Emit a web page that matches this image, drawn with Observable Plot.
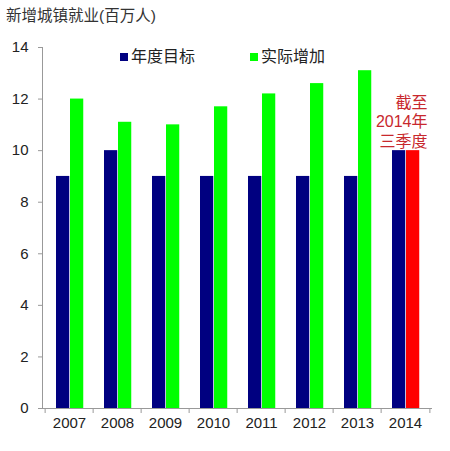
<!DOCTYPE html>
<html><head><meta charset="utf-8">
<script src="https://cdn.jsdelivr.net/npm/d3@7"></script>
<script src="https://cdn.jsdelivr.net/npm/@observablehq/plot@0.6"></script>
<style>
body{margin:0;background:#fff;font-family:"Liberation Sans","Noto Sans CJK SC",sans-serif;}
#wrap{position:relative;width:450px;height:451px;}
#title{height:32px;line-height:32px;padding-left:6px;font-size:15.5px;color:#333;}
.leg{position:absolute;top:47px;font-size:16px;color:#222;display:flex;align-items:center;line-height:20px;}
.sw{width:8px;height:8px;margin-right:3px;display:inline-block;}
</style></head>
<body><div id="wrap"><div id="title">新增城镇就业(百万人)</div>
<div id="chart"></div></div>
<script>
const years = ["2007","2008","2009","2010","2011","2012","2013","2014"];
const target = [9,10,9,9,9,9,9,10];
const actual = [12.0,11.1,11.0,11.7,12.2,12.6,13.1,10];
const seriesNames = ["年度目标","实际增加"];
const seriesColors = ["#000080","#00ff00"];
const partialColor = "#ff0000";
const note = "截至\n2014年\n三季度";
const yTicks = [0,2,4,6,8,10,12,14];

const data = years.map((y,i)=>({year:y,target:target[i],actual:actual[i],partial:y==="2014"}));
const bw = (450-42-18)/years.length;
const half = bw/2;

const plot = Plot.plot({
  width:450, height:419,
  marginTop:15, marginBottom:43, marginLeft:42, marginRight:18,
  style:{fontFamily:'"Liberation Sans","Noto Sans CJK SC",sans-serif',fontSize:"15px",color:"#222"},
  x:{domain:years, padding:0},
  y:{domain:[0,14]},
  marks:[
    Plot.barY(data,{x:"year",y:"target",fill:seriesColors[0],insetLeft:11,insetRight:bw-25}),
    Plot.barY(data,{x:"year",y:"actual",fill:d=>d.partial?partialColor:seriesColors[1],insetLeft:25,insetRight:bw-39}),
    Plot.frame({anchor:"left",stroke:"#999"}),
    Plot.ruleY([0],{stroke:"#999"}),
    Plot.axisY({ticks:yTicks,tickSize:4,tickPadding:10,stroke:"#999",fill:"#222",fontSize:15,label:null}),
    Plot.axisX({tickSize:0,tickPadding:9,fill:"#222",fontSize:15,label:null}),
    Plot.axisX({tickSize:5,text:null,stroke:"#999",dx:-half,label:null}),
    Plot.axisX({ticks:[years[years.length-1]],tickSize:5,text:null,stroke:"#999",dx:half,label:null}),
    Plot.text([data[data.length-1]],{x:"year",y:"target",text:()=>note,textAnchor:"end",lineAnchor:"bottom",dx:22,dy:-4,fill:"#c8282d",fontSize:16,lineHeight:1.2})
  ]
});
document.getElementById("chart").appendChild(plot);

const wrap = document.getElementById("wrap");
const lx = [120,250];
seriesNames.forEach((n,i)=>{
  const d = document.createElement("div");
  d.className="leg"; d.style.left=lx[i]+"px";
  d.innerHTML=`<span class="sw" style="background:${seriesColors[i]}"></span>${n}`;
  wrap.appendChild(d);
});
</script></body></html>
